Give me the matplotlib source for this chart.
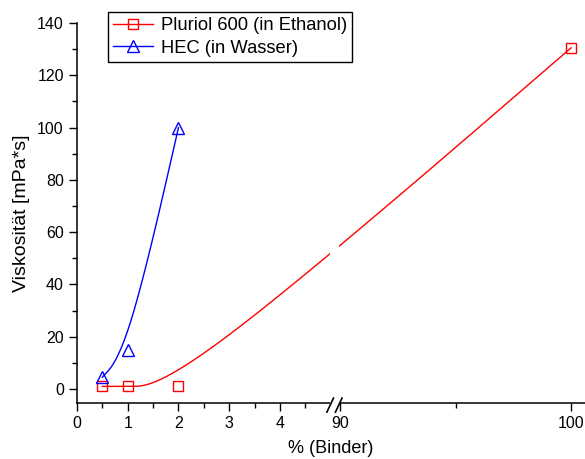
import numpy as np
import matplotlib
matplotlib.use("Agg")
from matplotlib import pyplot as plt
from matplotlib.patches import Rectangle
from matplotlib.lines import Line2D

plt.rcParams['font.family'] = ['Liberation Sans', 'DejaVu Sans']

pluriol_x = [0.5, 1, 2, 100]
pluriol_y = [1, 1, 1, 130.5]
hec_x = [0.5, 1, 2]
hec_y = [4.5, 15, 100]

x_major = [0, 1, 2, 3, 4, 90, 100]
x_minor = [0.5, 1.5, 2.5, 3.5, 4.5, 95]

# broken x axis: 0..5 then 89.6..100 compressed
BRK, RSTART, K = 5.0, 89.6, 0.4556


def fwd(x):
    x = np.asarray(x, dtype=float)
    return np.where(x <= BRK, x, BRK + (x - RSTART) * K)


def inv(u):
    u = np.asarray(u, dtype=float)
    return np.where(u <= BRK, u, RSTART + (u - BRK) / K)


def bspline(px, py, n=60):
    # uniform cubic B-spline, end points tripled (like Origin's B-spline line)
    P = np.column_stack([px, py])
    P = np.vstack([P[:1], P[:1], P, P[-1:], P[-1:]])
    M = np.array([[-1, 3, -3, 1], [3, -6, 3, 0], [-3, 0, 3, 0], [1, 4, 1, 0]]) / 6.0
    t = np.linspace(0, 1, n)
    T = np.column_stack([t**3, t**2, t, np.ones_like(t)])
    out = [T @ M @ P[i:i + 4] for i in range(len(P) - 3)]
    out = np.vstack(out)
    return out[:, 0], out[:, 1]


fig = plt.figure(figsize=(5.85, 4.59), dpi=100)
ax = fig.add_axes([77 / 585, 56 / 459, 1 - 77 / 585, 380 / 459])
ax.set_xscale('function', functions=(fwd, inv))

u, v = bspline(fwd(pluriol_x), pluriol_y)
ax.plot(inv(u), v, color='red', lw=1)
ax.plot(pluriol_x, pluriol_y, ls='none', marker='s', ms=7.5, mfc='none', mec='red', mew=1)
u, v = bspline(fwd(hec_x), hec_y)
ax.plot(inv(u), v, color='blue', lw=1)
ax.plot(hec_x, hec_y, ls='none', marker='^', ms=8.5, mfc='none', mec='blue', mew=1)

ax.set_xlim(0, 100.6)
ax.set_ylim(-5.36, 140)
ax.set_xticks(x_major)
ax.set_xticklabels([str(t) for t in x_major])
ax.set_xticks(x_minor, minor=True)
ax.set_yticks(np.arange(0, 141, 20))
ax.set_yticks(np.arange(0, 141, 10), minor=True)
ax.tick_params(which='major', direction='out', length=6, width=1, labelsize=11.5)
ax.tick_params(which='minor', direction='out', length=3.5, width=1)
ax.spines['top'].set_visible(False)
ax.spines['right'].set_visible(False)
for s in ['left', 'bottom']:
    ax.spines[s].set_linewidth(1.1)

# axis break: white gap and two slashes
trans = ax.get_xaxis_transform()
ax.add_patch(Rectangle((inv(4.99), -0.03), inv(5.16) - inv(4.99), 1.05, transform=trans,
                       facecolor='white', edgecolor='none', zorder=3, clip_on=False))
for uc in [4.99, 5.158]:
    ax.add_line(Line2D([inv(uc - 0.065), inv(uc + 0.065)], [-0.024, 0.013],
                       transform=trans, color='black', lw=1.2, clip_on=False, zorder=4))

ax.set_xlabel('% (Binder)', fontsize=13, labelpad=6)
ax.set_ylabel('Viskosität [mPa*s]', fontsize=14, labelpad=5)

h1 = Line2D([], [], color='red', lw=1, marker='s', ms=7.5, mfc='none', mec='red')
h2 = Line2D([], [], color='blue', lw=1, marker='^', ms=8.5, mfc='none', mec='blue')
leg = ax.legend([h1, h2], ['Pluriol 600 (in Ethanol)', 'HEC (in Wasser)'],
                loc='upper left', bbox_to_anchor=(0.061, 1.029), fontsize=13.2,
                fancybox=False, framealpha=1, edgecolor='black', handlelength=2.2,
                borderpad=0.28, labelspacing=0.3, handletextpad=0.4, borderaxespad=0)
leg.get_frame().set_linewidth(1)

fig.savefig('out.png', dpi=100)
